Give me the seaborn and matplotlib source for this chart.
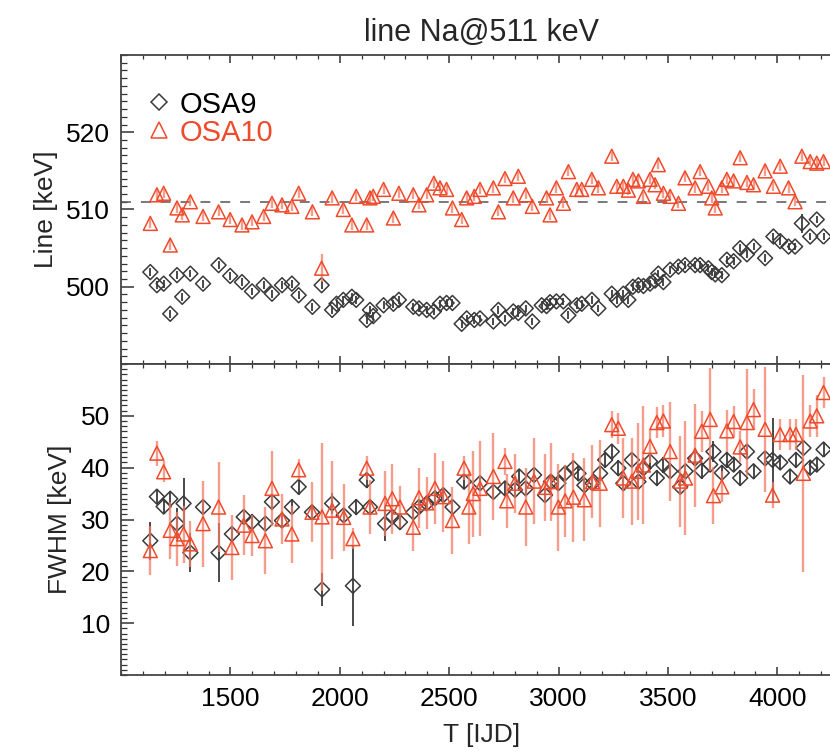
import numpy as np
import pandas as pd
import matplotlib
matplotlib.use("Agg")
import matplotlib.pyplot as plt
from matplotlib.lines import Line2D
from matplotlib.ticker import MultipleLocator
import seaborn as sns

nan = np.nan

# ---------------- top panel: line energy ----------------
T_line = [1134, 1164, 1195, 1225, 1256, 1280, 1317, 1375, 1446, 1499,
          1553, 1599, 1652, 1690, 1736, 1781, 1812, 1875, 1917, 1965,
          1985, 2016, 2055, 2075, 2123, 2138, 2153, 2200, 2245, 2270,
          2336, 2362, 2397, 2430, 2458, 2488, 2515, 2557, 2580, 2615,
          2641, 2702, 2725, 2755, 2793, 2816, 2850, 2880, 2923, 2945,
          2961, 2990, 3022, 3045, 3083, 3106, 3152, 3182, 3243, 3266,
          3296, 3319, 3340, 3365, 3388, 3418, 3441, 3456, 3479, 3510,
          3548, 3578, 3624, 3647, 3685, 3700, 3716, 3746, 3769, 3800,
          3830, 3861, 3891, 3944, 3982, 4013, 4051, 4081, 4112, 4150,
          4180, 4211]
osa9_line = [501.9, 500.2, 500.4, 496.5, 501.5, 498.7, 501.7, 500.4, 502.8, 501.4,
             500.6, 499.4, 500.2, 499.1, 500.2, 500.4, 498.9, 497.4, 500.2, 497.0,
             497.8, 498.3, 498.7, 498.3, 495.7, 497.0, 496.2, 497.6, 497.8, 498.3,
             497.4, 497.2, 497.0, 496.8, 497.8, 497.9, 497.9, 495.2, 495.9, 495.7,
             495.9, 495.5, 497.0, 495.9, 496.8, 496.6, 497.2, 495.5, 497.6, 497.5,
             498.0, 498.1, 498.1, 496.3, 497.6, 497.8, 498.3, 497.2, 499.1, 498.3,
             499.1, 498.3, 500.0, 500.2, 500.1, 500.4, 500.8, 501.7, 500.6, 502.2,
             502.6, 502.8, 502.8, 502.8, 502.4, 501.9, 501.6, 501.5, 503.5, 503.3,
             505.0, 504.2, 505.2, 503.7, 506.5, 505.9, 505.2, 505.2, 508.2, 506.5,
             508.7, 506.5]
osa10_line = [508.2, 511.9, 512.1, 505.4, 510.2, 509.3, 511.0, 509.1, 509.7, 508.7,
              508.0, 508.4, 509.1, 510.8, 510.6, 510.4, 512.1, 509.7, 502.4, 511.5,
              nan, 510.0, 508.0, 511.7, 508.0, 511.5, 511.7, 512.6, 508.9, 512.1,
              511.9, 510.6, 511.9, 513.4, 512.8, 512.6, 510.2, 508.7, 511.5, 511.7,
              512.6, 512.8, 509.7, 514.0, 511.5, 514.3, 511.9, 510.4, nan, 511.5,
              509.3, 512.8, 510.8, 514.9, 512.6, 512.6, 513.9, 512.8, 516.9, 513.0,
              513.0, 512.5, 513.9, 513.7, 511.7, 513.9, 513.2, 515.8, 512.1, 511.7,
              510.8, 514.1, 512.8, 514.9, 513.0, 511.5, 510.2, 512.8, 513.9, 513.7,
              516.7, 513.5, 513.2, 515.0, 513.0, 515.6, 512.8, 511.0, 516.9, 516.2,
              516.0, 516.2]
line_err9 = [0.5] * len(T_line)
line_err10 = [0.6] * len(T_line)
line_err10[T_line.index(1917)] = 1.8
line_err9[T_line.index(4112)] = 1.2

# ---------------- bottom panel: FWHM ----------------
T_fwhm = [1134, 1164, 1195, 1225, 1256, 1286, 1317, 1375, 1446, 1507,
          1561, 1599, 1660, 1690, 1736, 1781, 1812, 1873, 1919, 1965,
          2018, 2060, 2075, 2123, 2138, 2207, 2240, 2275, 2336, 2362,
          2397, 2435, 2473, 2515, 2568, 2590, 2610, 2641, 2702, 2755,
          2763, 2801, 2820, 2850, 2888, 2938, 2965, 2999, 3030, 3068,
          3091, 3118, 3155, 3190, 3213, 3243, 3273, 3296, 3335, 3365,
          3388, 3418, 3449, 3479, 3510, 3556, 3580, 3624, 3654, 3693,
          3708, 3746, 3769, 3800, 3830, 3861, 3891, 3944, 3978, 4013,
          4058, 4085, 4119, 4150, 4180, 4211]
osa9_fwhm = [25.9, 34.4, 32.5, 34.0, 29.2, 33.1, 23.6, 32.4, 23.6, 27.2,
             30.5, 29.5, 29.2, 33.4, 29.8, 32.4, 36.3, 31.4, 16.5, 33.1,
             30.8, 17.2, 32.4, 37.6, 32.4, 29.2, 30.5, 29.5, 31.4, 32.4,
             33.1, 34.1, 34.7, 32.4, 37.3, nan, nan, 37.0, 35.3, 36.0,
             nan, 35.7, 38.3, 36.0, 38.6, 34.7, 37.3, 37.0, 38.9, 39.9,
             38.9, 36.6, 37.0, 38.9, 41.5, 43.1, 39.9, 37.0, 41.5, 37.3,
             39.9, 41.2, 38.0, 40.5, 39.3, 36.3, 39.3, 41.8, 39.4, 40.6,
             43.1, 39.0, 41.5, 40.6, 38.0, 43.1, 39.3, 41.8, 41.5, 41.0,
             38.3, 41.5, 43.8, 40.0, 40.6, 43.5]
osa9_fwhm_err = [3.7, 1.5, 1.5, 1.5, 3.0, 4.9, 3.7, 1.5, 5.7, 1.5,
                 1.5, 1.5, 1.5, 1.5, 1.5, 1.5, 1.5, 1.5, 3.1, 2.0,
                 1.5, 7.8, 1.5, 1.5, 1.5, 3.4, 1.5, 1.5, 1.5, 1.5,
                 1.5, 1.5, 1.5, 1.5, 1.5, nan, nan, 1.5, 1.5, 1.5,
                 nan, 1.5, 1.5, 1.5, 1.5, 1.5, 1.5, 1.5, 1.5, 1.5,
                 1.5, 1.5, 1.5, 1.5, 1.5, 1.5, 1.5, 1.5, 1.5, 1.5,
                 1.5, 1.5, 1.5, 1.5, 1.5, 1.5, 1.5, 1.5, 1.5, 1.5,
                 2.1, 1.5, 1.5, 1.5, 1.5, 1.5, 1.5, 1.5, 8.0, 1.5,
                 1.5, 1.5, 1.5, 1.5, 1.5, 1.5]
osa10_fwhm = [24.0, 42.8, 39.2, 27.9, 26.3, 27.2, 25.3, 29.2, 32.4, 24.6,
              28.9, 26.9, 25.9, 36.0, 30.1, 27.2, 39.6, 31.4, 30.5, 31.8,
              30.4, 26.3, nan, 39.9, 32.4, 33.1, 34.0, 32.4, 28.5, 34.2,
              33.2, 36.0, 34.4, 29.8, 39.9, 32.4, 35.0, 36.0, 38.3, 41.2,
              33.6, 37.0, nan, 32.4, 37.4, 36.2, 37.3, 32.4, 33.6, 34.3,
              nan, 33.8, 37.3, 37.0, nan, 48.3, 47.6, 38.0, 37.4, 39.3,
              40.5, 44.1, 48.7, 49.0, 43.1, 37.4, 38.0, 42.4, 47.0, 49.3,
              34.6, 36.3, 47.1, 48.9, 44.0, 48.7, 51.2, 47.4, 34.7, 46.4,
              46.4, 46.4, 38.9, 49.0, 50.0, 54.5]
osa10_fwhm_err = [4.7, 2.4, 2.0, 5.5, 5.2, 5.5, 4.5, 8.3, 8.6, 6.3,
                  5.8, 4.0, 6.5, 7.3, 4.9, 5.5, 2.0, 5.8, 14.3, 9.4,
                  6.5, 2.0, nan, 2.3, 5.2, 6.2, 6.8, 4.0, 4.5, 5.8,
                  5.0, 6.8, 6.8, 6.5, 2.3, 7.1, 8.3, 9.1, 8.4, 2.6,
                  5.2, 5.7, nan, 7.5, 8.3, 6.5, 7.5, 8.4, 7.0, 8.6,
                  nan, 8.0, 7.0, 8.4, nan, 2.6, 3.0, 7.8, 8.4, 9.3,
                  11.4, 3.2, 3.0, 3.0, 9.6, 8.8, 11.0, 9.9, 4.0, 10.0,
                  5.5, 3.0, 4.0, 3.0, 3.0, 10.4, 4.0, 12.0, 2.5, 3.0,
                  3.0, 3.0, 19.0, 3.0, 4.0, 3.0]

title = "line Na@511 keV"
labels = ["OSA9", "OSA10"]
ref_line = 511

# ---------------- styling ----------------
sns.set_style("ticks")
FONT = ["Liberation Sans", "DejaVu Sans"]
plt.rcParams["font.family"] = FONT

C9 = "#3a3a3a"
C10 = "#ef4a2c"
C10_ERR = "#f47c64"

df_line = pd.DataFrame({"T": T_line, "osa9": osa9_line, "osa10": osa10_line,
                        "e9": line_err9, "e10": line_err10})
df_fwhm = pd.DataFrame({"T": T_fwhm, "osa9": osa9_fwhm, "osa10": osa10_fwhm,
                        "e9": osa9_fwhm_err, "e10": osa10_fwhm_err})

fig = plt.figure(figsize=(8.3, 7.52), dpi=100)
W, H = 830.0, 752.0
left, right = 121, 843
ax1 = fig.add_axes([left / W, 388 / H, (right - left) / W, 309 / H])
ax2 = fig.add_axes([left / W, 77 / H, (right - left) / W, 311 / H])

for ax, df in ((ax1, df_line), (ax2, df_fwhm)):
    ax.errorbar(df["T"], df["osa9"], yerr=df["e9"], fmt="none", ecolor=C9,
                elinewidth=1.3, capsize=0, zorder=2)
    sns.scatterplot(data=df, x="T", y="osa9", ax=ax, marker="D", s=58,
                    facecolors="none", edgecolor=C9, color=C9, linewidth=1.1,
                    zorder=3)
    ax.errorbar(df["T"], df["osa10"], yerr=df["e10"], fmt="none", ecolor=C10_ERR,
                elinewidth=1.7, alpha=0.75, capsize=0, zorder=4)
    sns.scatterplot(data=df, x="T", y="osa10", ax=ax, marker="^", s=100,
                    facecolors="none", edgecolor=C10, color=C10, linewidth=1.1,
                    zorder=5)

ax1.axhline(ref_line, color="#555555", lw=1.1, ls=(0, (6.5, 6.5)), zorder=1)

ax1.set_xlim(1000, 4300)
ax2.set_xlim(1000, 4300)
ax1.set_ylim(490, 530)
ax2.set_ylim(0, 60)

ax1.set_yticks([500, 510, 520])
ax2.set_yticks([10, 20, 30, 40, 50])
for ax in (ax1, ax2):
    ax.xaxis.set_major_locator(MultipleLocator(500))
    ax.xaxis.set_minor_locator(MultipleLocator(100))
    ax.yaxis.set_minor_locator(MultipleLocator(1))
    ax.tick_params(which="both", direction="in", top=True, right=True,
                   colors="#333333", labelcolor="black", labelsize=19)
    ax.tick_params(axis="y", which="major", length=9, width=1.1, pad=8)
    ax.tick_params(axis="y", which="minor", length=4, width=0.9)
    ax.tick_params(axis="x", which="major", length=6, width=1.1, pad=9)
    ax.tick_params(axis="x", which="minor", length=3, width=0.9)
    for sp in ax.spines.values():
        sp.set_color("#444444")
        sp.set_linewidth(1.3)

ax1.tick_params(axis="x", labelbottom=False)
ax2.set_xticks([1500, 2000, 2500, 3000, 3500, 4000])

ax1.set_xlabel("")
ax1.set_ylabel("Line [keV]", fontsize=19, labelpad=6)
ax2.set_ylabel("FWHM [keV]", fontsize=19, labelpad=6)
ax2.set_xlabel("T [IJD]", fontsize=19, labelpad=8)
ax1.set_title(title, fontsize=22, pad=10)

handles = [Line2D([0], [0], marker="D", ls="none", mfc="none", mec=C9,
                  ms=8.5, mew=1.1),
           Line2D([0], [0], marker="^", ls="none", mfc="none", mec=C10,
                  ms=11.5, mew=1.1)]
leg = ax1.legend(handles, labels, loc="upper left", bbox_to_anchor=(0.035, 0.885),
                 frameon=False, fontsize=21, handlelength=0.9,
                 handletextpad=0.25, labelspacing=0.0, borderaxespad=0,
                 borderpad=0)
for txt, col in zip(leg.get_texts(), ["black", C10]):
    txt.set_color(col)

fig.savefig("out.png", dpi=100)
